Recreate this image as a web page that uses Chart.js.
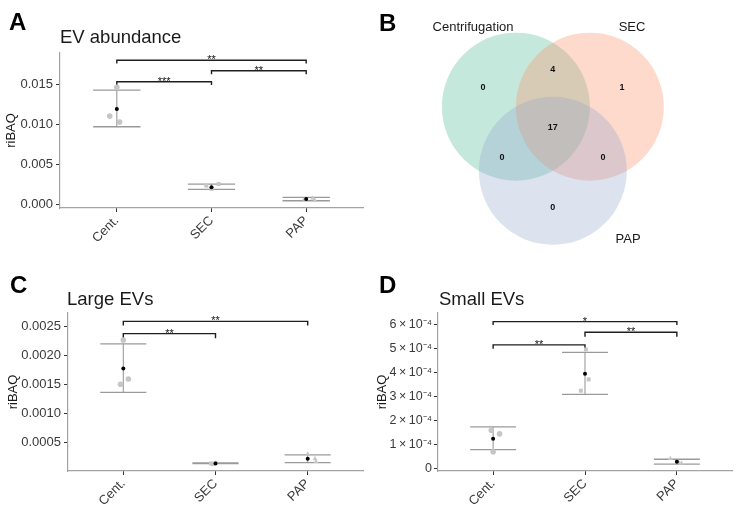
<!DOCTYPE html>
<html>
<head>
<meta charset="utf-8">
<script src="https://cdn.jsdelivr.net/npm/chart.js@4.4.1/dist/chart.umd.min.js"></script>
<style>
  html, body { margin: 0; padding: 0; background: #fff; }
  #wrap { position: relative; width: 743px; height: 516px; overflow: hidden; }
  canvas { position: absolute; }
</style>
</head>
<body>
<div id="wrap">
  <canvas id="chartA" width="371" height="258" style="left:0;top:0"></canvas>
  <canvas id="chartB" width="372" height="258" style="left:371px;top:0"></canvas>
  <canvas id="chartC" width="371" height="258" style="left:0;top:258px"></canvas>
  <canvas id="chartD" width="372" height="258" style="left:371px;top:258px"></canvas>
</div>
<script>
const categories = ['Cent.', 'SEC', 'PAP'];
const groupShapes = ['circle', 'rect', 'triangle'];

// A - EV abundance (replicates per group, mean and error limits)
const abundReps = [[0.0146, 0.0110, 0.01025], [0.0023, 0.0025, 0.0019], [0.0007, 0.0005, 0.0006]];
const abundMean = [0.0119, 0.0021, 0.00062];
const abundLow = [0.00967, 0.00184, 0.00041];
const abundHigh = [0.01425, 0.0025, 0.00084];
const abundTicks = [0, 0.005, 0.010, 0.015];
const abundTickLabels = ['0.000', '0.005', '0.010', '0.015'];
const abundPairs = [[1, 2], [2, 3], [1, 3]];
const abundBracketY = [0.0153, 0.01667, 0.0180];
const abundBracketTip = [0.0149, 0.01625, 0.0176];
const abundStars = ['***', '**', '**'];

// C - Large EVs
const largeReps = [[0.00226, 0.0015, 0.00159], [0.00014, 0.00013, 0.00015], [0.0003, 0.00022, 0.00017]];
const largeMean = [0.00177, 0.00014, 0.00022];
const largeLow = [0.00136, 0.000135, 0.000155];
const largeHigh = [0.002195, 0.000148, 0.000288];
const largeTicks = [0.0005, 0.0010, 0.0015, 0.0020, 0.0025];
const largeTickLabels = ['0.0005', '0.0010', '0.0015', '0.0020', '0.0025'];
const largePairs = [[1, 2], [1, 3]];
const largeBracketY = [0.00237, 0.00258];
const largeBracketTip = [0.00229, 0.00251];
const largeStars = ['**', '**'];

// D - Small EVs
const smallReps = [[1.6e-4, 1.45e-4, 0.7e-4], [4.97e-4, 3.72e-4, 3.25e-4], [0.42e-4, 0.25e-4, 0.22e-4]];
const smallMean = [1.25e-4, 3.96e-4, 0.29e-4];
const smallLow = [0.795e-4, 3.1e-4, 0.19e-4];
const smallHigh = [1.74e-4, 4.85e-4, 0.39e-4];
const smallTicks = [0, 1e-4, 2e-4, 3e-4, 4e-4, 5e-4, 6e-4];
const smallTickLabels = ['0', '1\u2009\u00d7\u200910\u207b\u2074', '2\u2009\u00d7\u200910\u207b\u2074',
  '3\u2009\u00d7\u200910\u207b\u2074', '4\u2009\u00d7\u200910\u207b\u2074', '5\u2009\u00d7\u200910\u207b\u2074',
  '6\u2009\u00d7\u200910\u207b\u2074'];
const smallPairs = [[1, 2], [2, 3], [1, 3]];
const smallBracketY = [5.16e-4, 5.69e-4, 6.13e-4];
const smallBracketTip = [5.0e-4, 5.5e-4, 5.99e-4];
const smallStars = ['**', '**', '*'];

// B - Venn diagram of identified proteins
const vennSets = ['Centrifugation', 'SEC', 'PAP'];
const vennRegions = ['Cent. only', 'Cent. & SEC', 'SEC only', 'all', 'Cent. & PAP', 'SEC & PAP', 'PAP only'];
const vennCounts = [0, 4, 1, 17, 0, 0, 0];

// horizontal jitter of replicate points (category units)
const abundJitter = [[0, -0.075, 0.03], [-0.055, 0.075, 0], [0.07, 0.09, -0.02]];
const largeJitter = [[0, -0.03, 0.055], [-0.05, -0.03, 0], [0, 0.08, 0.09]];
const smallJitter = [[-0.02, 0.07, 0], [0.01, 0.04, -0.045], [-0.07, 0.02, 0.05]];

// venn layout, in circle-radius units
const vennCenters = [[-0.5, 0], [0.5, 0], [0, -0.866]];
const vennRegionPos = [[-0.944, 0.253], [0, 0.509], [0.934, 0.253], [0, -0.288], [-0.687, -0.68], [0.678, -0.68], [0, -1.369]];
const vennLabelPos = [[-1.079, 1.077], [1.07, 1.077], [1.016, -1.8]];
const vennColors = ['rgba(102,194,165,0.38)', 'rgba(252,141,98,0.32)', 'rgba(141,160,203,0.3)'];

const FONT = '"Liberation Sans", Arial, Helvetica, sans-serif';
Chart.defaults.font.family = FONT;
Chart.defaults.color = '#3a3a3a';

function seg(points, color, width, order) {
  return {
    data: points, showLine: true, borderColor: color, borderWidth: width,
    pointRadius: 0, fill: false, order: order
  };
}

function makePanel(id, cfg) {
  const datasets = [];
  // mean points
  datasets.push({
    data: cfg.mean.map((m, i) => ({ x: i + 1, y: m })),
    backgroundColor: '#000', borderWidth: 0, pointRadius: 2, order: 0
  });
  // replicate points
  const reps = [], styles = [];
  cfg.reps.forEach((vals, g) => vals.forEach((v, j) => {
    reps.push({ x: g + 1 + cfg.jitter[g][j], y: v });
    styles.push(groupShapes[g]);
  }));
  datasets.push({
    data: reps, pointStyle: styles, backgroundColor: '#c6c6c6', borderWidth: 0,
    pointRadius: 2.8, order: 1
  });
  // error bars
  cfg.mean.forEach((m, i) => {
    const c = i + 1;
    datasets.push(seg([{ x: c, y: cfg.low[i] }, { x: c, y: cfg.high[i] }], '#9a9a9a', 1.1, 2));
    datasets.push(seg([{ x: c - 0.25, y: cfg.low[i] }, { x: c + 0.25, y: cfg.low[i] }], '#9a9a9a', 1.3, 2));
    datasets.push(seg([{ x: c - 0.25, y: cfg.high[i] }, { x: c + 0.25, y: cfg.high[i] }], '#9a9a9a', 1.3, 2));
  });
  // significance brackets
  cfg.pairs.forEach(([a, b], i) => {
    datasets.push(seg([
      { x: a, y: cfg.tip[i] }, { x: a, y: cfg.bracketY[i] },
      { x: b, y: cfg.bracketY[i] }, { x: b, y: cfg.tip[i] }
    ], '#1e1e1e', 1.4, 3));
  });

  const textPlugin = {
    id: 'panelText' + id,
    afterDraw(chart) {
      const { ctx, chartArea, scales: { x, y } } = chart;
      ctx.save();
      ctx.fillStyle = '#111';
      ctx.textAlign = 'center';
      ctx.textBaseline = 'alphabetic';
      ctx.font = '11px ' + FONT;
      cfg.stars.forEach((s, i) => {
        const [a, b] = cfg.pairs[i];
        ctx.fillText(s, x.getPixelForValue((a + b) / 2), y.getPixelForValue(cfg.bracketY[i]) + 3);
      });
      ctx.textAlign = 'left';
      ctx.fillStyle = '#000';
      ctx.font = 'bold 24px ' + FONT;
      ctx.fillText(cfg.letter, cfg.letterX, cfg.letterY);
      ctx.fillStyle = '#1a1a1a';
      ctx.font = '18.5px ' + FONT;
      ctx.fillText(cfg.title, chartArea.left + cfg.titleDx, cfg.titleY);
      ctx.restore();
    }
  };

  new Chart(document.getElementById(id), {
    type: 'scatter',
    data: { datasets },
    plugins: [textPlugin],
    options: {
      responsive: false,
      animation: false,
      events: [],
      layout: { padding: { top: cfg.padTop, right: cfg.padRight, bottom: 0, left: 0 } },
      plugins: { legend: { display: false }, tooltip: { enabled: false } },
      scales: {
        x: {
          type: 'linear', min: 0.4, max: 3.6,
          afterBuildTicks: s => { s.ticks = categories.map((c, i) => ({ value: i + 1 })); },
          afterFit: s => { s.height = cfg.xHeight; },
          ticks: {
            callback: v => categories[Math.round(v) - 1],
            minRotation: 45, maxRotation: 45, autoSkip: false,
            color: '#3a3a3a', font: { size: 13 }, padding: 1
          },
          grid: { drawOnChartArea: false, tickLength: 4, color: '#333', lineWidth: 1 },
          border: { color: '#a3a3a3', width: 1.2 }
        },
        y: {
          min: cfg.yMin, max: cfg.yMax,
          afterBuildTicks: s => { s.ticks = cfg.ticks.map(v => ({ value: v })); },
          afterFit: s => { s.width = cfg.yWidth; },
          ticks: {
            callback: (v, i) => cfg.tickLabels[i],
            color: '#3a3a3a', font: { size: cfg.yTickSize }, padding: cfg.yTickPad
          },
          title: {
            display: true, text: 'riBAQ', color: '#1a1a1a', font: { size: 13 },
            padding: { top: cfg.yTitlePad, bottom: 0 }
          },
          grid: { drawOnChartArea: false, tickLength: 4, color: '#333', lineWidth: 1 },
          border: { color: '#a3a3a3', width: 1.2 }
        }
      }
    }
  });
}

makePanel('chartA', {
  reps: abundReps, mean: abundMean, low: abundLow, high: abundHigh, jitter: abundJitter,
  ticks: abundTicks, tickLabels: abundTickLabels,
  pairs: abundPairs, bracketY: abundBracketY, tip: abundBracketTip, stars: abundStars,
  yMin: -0.0005, yMax: 0.0189,
  padTop: 53, padRight: 8, yWidth: 60, xHeight: 50, yTitlePad: 4, yTickSize: 13, yTickPad: 3,
  letter: 'A', letterX: 9, letterY: 30, title: 'EV abundance', titleDx: 0, titleY: 43
});

makePanel('chartC', {
  reps: largeReps, mean: largeMean, low: largeLow, high: largeHigh, jitter: largeJitter,
  ticks: largeTicks, tickLabels: largeTickLabels,
  pairs: largePairs, bracketY: largeBracketY, tip: largeBracketTip, stars: largeStars,
  yMin: 0.00001, yMax: 0.002724,
  padTop: 55, padRight: 8, yWidth: 68, xHeight: 45, yTitlePad: 6, yTickSize: 13, yTickPad: 3,
  letter: 'C', letterX: 10, letterY: 35, title: 'Large EVs', titleDx: -1, titleY: 47
});

makePanel('chartD', {
  reps: smallReps, mean: smallMean, low: smallLow, high: smallHigh, jitter: smallJitter,
  ticks: smallTicks, tickLabels: smallTickLabels,
  pairs: smallPairs, bracketY: smallBracketY, tip: smallBracketTip, stars: smallStars,
  yMin: -1e-5, yMax: 6.49e-4,
  padTop: 55, padRight: 11, yWidth: 67, xHeight: 45, yTitlePad: 4, yTickSize: 12.5, yTickPad: 2,
  letter: 'D', letterX: 8, letterY: 35, title: 'Small EVs', titleDx: 1, titleY: 47
});

// Venn diagram
const vennText = {
  id: 'vennText',
  afterDraw(chart) {
    const { ctx, scales: { x, y } } = chart;
    ctx.save();
    ctx.textAlign = 'center';
    ctx.textBaseline = 'middle';
    ctx.fillStyle = '#1a1a1a';
    ctx.font = '13px ' + FONT;
    vennSets.forEach((s, i) => {
      ctx.fillText(s, x.getPixelForValue(vennLabelPos[i][0]), y.getPixelForValue(vennLabelPos[i][1]));
    });
    ctx.fillStyle = '#111';
    ctx.font = 'bold 9px ' + FONT;
    vennCounts.forEach((n, i) => {
      ctx.fillText(String(n), x.getPixelForValue(vennRegionPos[i][0]), y.getPixelForValue(vennRegionPos[i][1]));
    });
    ctx.textAlign = 'left';
    ctx.textBaseline = 'alphabetic';
    ctx.fillStyle = '#000';
    ctx.font = 'bold 24px ' + FONT;
    ctx.fillText('B', 8, 31);
    ctx.restore();
  }
};

new Chart(document.getElementById('chartB'), {
  type: 'scatter',
  data: {
    labels: vennSets,
    datasets: [{
      data: vennCenters.map(([cx, cy]) => ({ x: cx, y: cy })),
      backgroundColor: vennColors,
      borderWidth: 0,
      clip: false,
      pointRadius: c => c.chart.scales.x.getPixelForValue(1) - c.chart.scales.x.getPixelForValue(0)
    }]
  },
  plugins: [vennText],
  options: {
    responsive: false,
    animation: false,
    events: [],
    layout: { padding: 0 },
    plugins: { legend: { display: false }, tooltip: { enabled: false } },
    scales: {
      x: { display: false, min: -2.4575, max: 2.5696 },
      y: { display: false, min: -2.0446, max: 1.4419 }
    }
  }
});
</script>
</body>
</html>
